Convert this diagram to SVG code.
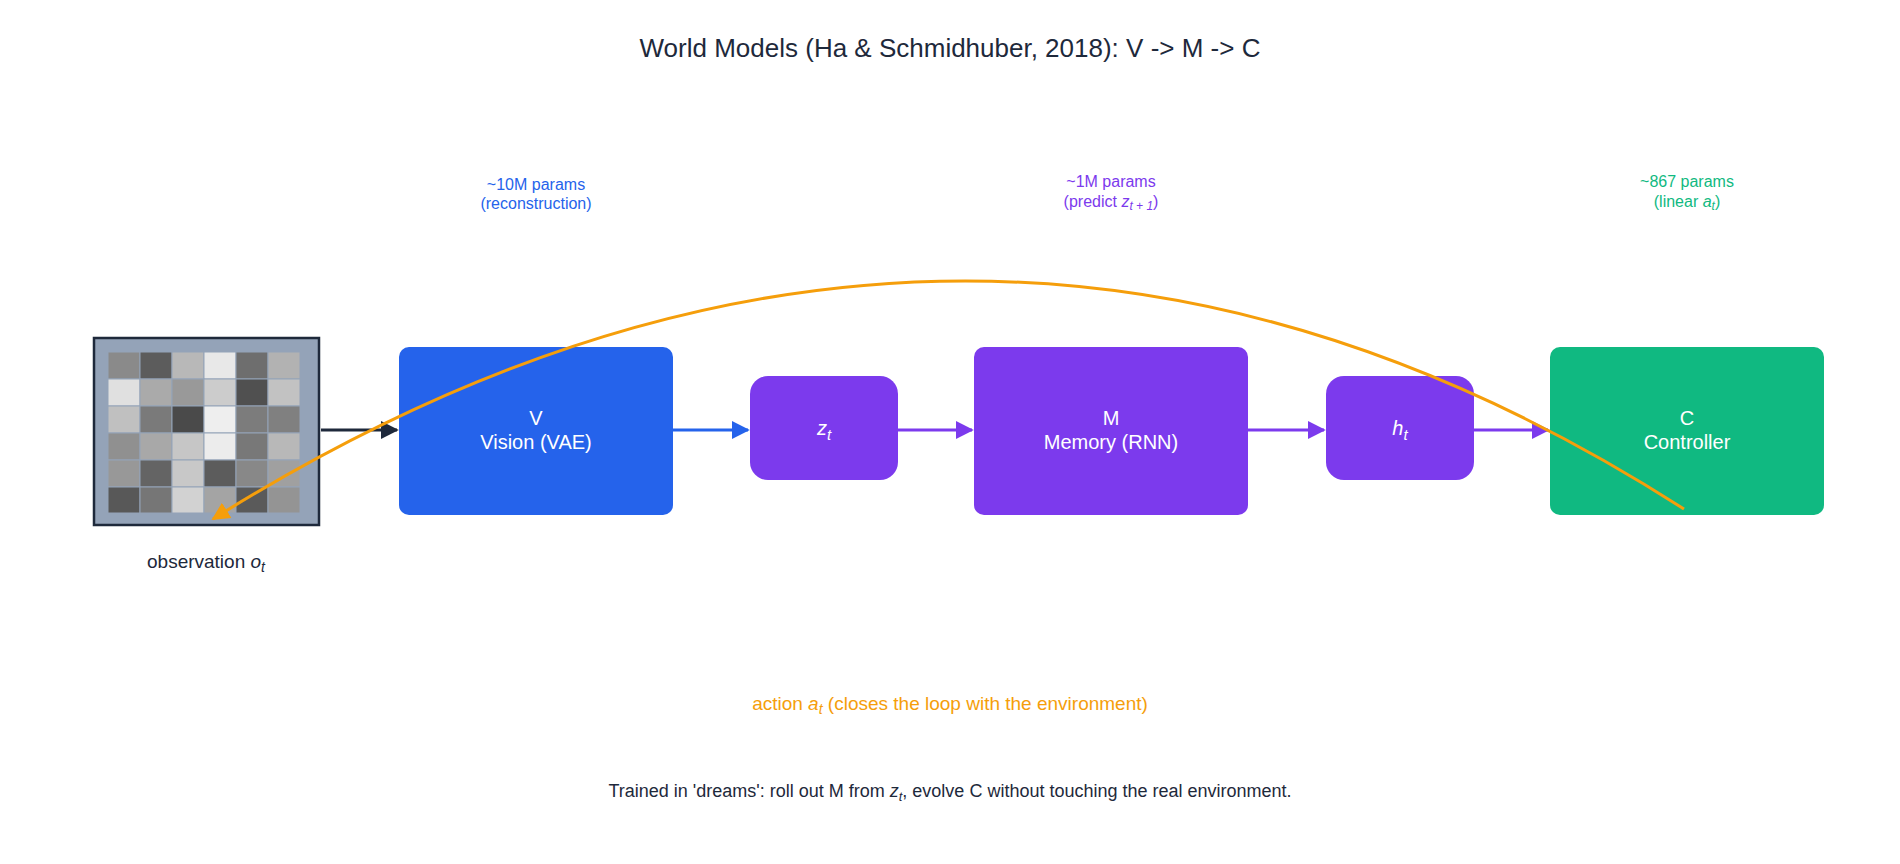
<svg xmlns="http://www.w3.org/2000/svg" width="1900" height="864" viewBox="0 0 1900 864">
<style>
text{font-family:"Liberation Sans",Arial,sans-serif;text-anchor:middle}
.w{fill:#fff;font-size:20px}
.p{font-size:16px}
.c{stroke-width:3;fill:none}
</style>
<defs>
<marker id="ak" viewBox="0 0 10 10" refX="9" refY="5" markerWidth="6" markerHeight="6" orient="auto"><path d="M0,0L10,5L0,10z" fill="#1e293b"/></marker>
<marker id="ab" viewBox="0 0 10 10" refX="9" refY="5" markerWidth="6" markerHeight="6" orient="auto"><path d="M0,0L10,5L0,10z" fill="#2563eb"/></marker>
<marker id="ap" viewBox="0 0 10 10" refX="9" refY="5" markerWidth="6" markerHeight="6" orient="auto"><path d="M0,0L10,5L0,10z" fill="#7c3aed"/></marker>
<marker id="ao" viewBox="0 0 10 10" refX="9" refY="5" markerWidth="6" markerHeight="6" orient="auto"><path d="M0,0L10,5L0,10z" fill="#f59e0b"/></marker>
</defs>
<rect width="1900" height="864" fill="#fff"/>
<text x="950" y="57" font-size="26" fill="#1e293b">World Models (Ha &amp; Schmidhuber, 2018):  V -&gt; M -&gt; C</text>
<g id="obs">
<rect x="94" y="338" width="225" height="187" fill="#94a3b8" stroke="#1e293b" stroke-width="2.5"/>
<g stroke="#94a3b8" stroke-width="1">
<rect x="108" y="352" width="32" height="27" fill="#8a8a8a"/><rect x="140" y="352" width="32" height="27" fill="#5c5c5c"/><rect x="172" y="352" width="32" height="27" fill="#b8b8b8"/><rect x="204" y="352" width="32" height="27" fill="#e8e8e8"/><rect x="236" y="352" width="32" height="27" fill="#6e6e6e"/><rect x="268" y="352" width="32" height="27" fill="#b2b2b2"/>
<rect x="108" y="379" width="32" height="27" fill="#e0e0e0"/><rect x="140" y="379" width="32" height="27" fill="#aaaaaa"/><rect x="172" y="379" width="32" height="27" fill="#999999"/><rect x="204" y="379" width="32" height="27" fill="#cccccc"/><rect x="236" y="379" width="32" height="27" fill="#505050"/><rect x="268" y="379" width="32" height="27" fill="#c2c2c2"/>
<rect x="108" y="406" width="32" height="27" fill="#c0c0c0"/><rect x="140" y="406" width="32" height="27" fill="#7a7a7a"/><rect x="172" y="406" width="32" height="27" fill="#4a4a4a"/><rect x="204" y="406" width="32" height="27" fill="#eeeeee"/><rect x="236" y="406" width="32" height="27" fill="#7c7c7c"/><rect x="268" y="406" width="32" height="27" fill="#808080"/>
<rect x="108" y="433" width="32" height="27" fill="#909090"/><rect x="140" y="433" width="32" height="27" fill="#a8a8a8"/><rect x="172" y="433" width="32" height="27" fill="#c6c6c6"/><rect x="204" y="433" width="32" height="27" fill="#ececec"/><rect x="236" y="433" width="32" height="27" fill="#787878"/><rect x="268" y="433" width="32" height="27" fill="#b8b8b8"/>
<rect x="108" y="460" width="32" height="27" fill="#989898"/><rect x="140" y="460" width="32" height="27" fill="#646464"/><rect x="172" y="460" width="32" height="27" fill="#c8c8c8"/><rect x="204" y="460" width="32" height="27" fill="#5c5c5c"/><rect x="236" y="460" width="32" height="27" fill="#888888"/><rect x="268" y="460" width="32" height="27" fill="#a0a0a0"/>
<rect x="108" y="487" width="32" height="26" fill="#585858"/><rect x="140" y="487" width="32" height="26" fill="#767676"/><rect x="172" y="487" width="32" height="26" fill="#d2d2d2"/><rect x="204" y="487" width="32" height="26" fill="#a4a4a4"/><rect x="236" y="487" width="32" height="26" fill="#5a5a5a"/><rect x="268" y="487" width="32" height="26" fill="#949494"/>
</g>
<text x="206" y="568" font-size="19" fill="#1e293b">observation <tspan font-style="italic">o</tspan><tspan font-style="italic" font-size="14" dy="4">t</tspan></text>
</g>
<g id="V"><rect x="399" y="347" width="274" height="168" rx="10" fill="#2563eb"/><text class="w" x="536" y="425">V</text><text class="w" x="536" y="449">Vision (VAE)</text>
<text class="p" x="536" y="190" fill="#2563eb">~10M params</text><text class="p" x="536" y="209" fill="#2563eb">(reconstruction)</text></g>
<g id="z"><rect x="750" y="376" width="148" height="104" rx="18" fill="#7c3aed"/><text class="w" x="824" y="435" font-size="22"><tspan font-style="italic">z</tspan><tspan font-style="italic" font-size="15" dy="5">t</tspan></text></g>
<g id="M"><rect x="974" y="347" width="274" height="168" rx="10" fill="#7c3aed"/><text class="w" x="1111" y="425">M</text><text class="w" x="1111" y="449">Memory (RNN)</text>
<text class="p" x="1111" y="187" fill="#7c3aed">~1M params</text><text class="p" x="1111" y="207" fill="#7c3aed">(predict <tspan font-style="italic">z</tspan><tspan font-style="italic" font-size="12" dy="3">t + 1</tspan><tspan dy="-3">)</tspan></text></g>
<g id="h"><rect x="1326" y="376" width="148" height="104" rx="18" fill="#7c3aed"/><text class="w" x="1400" y="435" font-size="22"><tspan font-style="italic">h</tspan><tspan font-style="italic" font-size="15" dy="5">t</tspan></text></g>
<g id="C"><rect x="1550" y="347" width="274" height="168" rx="10" fill="#10b981"/><text class="w" x="1687" y="425">C</text><text class="w" x="1687" y="449">Controller</text>
<text class="p" x="1687" y="187" fill="#10b981">~867 params</text><text class="p" x="1687" y="207" fill="#10b981">(linear <tspan font-style="italic">a</tspan><tspan font-style="italic" font-size="12" dy="3">t</tspan><tspan dy="-3">)</tspan></text></g>
<g id="connectors">
<path class="c" d="M321,430H397" stroke="#1e293b" marker-end="url(#ak)"/>
<path class="c" d="M673,430H748" stroke="#2563eb" marker-end="url(#ab)"/>
<path class="c" d="M898,430H972" stroke="#7c3aed" marker-end="url(#ap)"/>
<path class="c" d="M1248,430H1324" stroke="#7c3aed" marker-end="url(#ap)"/>
<path class="c" d="M1474,430H1548" stroke="#7c3aed" marker-end="url(#ap)"/>
<path class="c" d="M1684,509Q966,48 213,519" stroke="#f59e0b" marker-end="url(#ao)"/>
</g>
<text x="950" y="710" font-size="19" fill="#f59e0b">action <tspan font-style="italic">a</tspan><tspan font-style="italic" font-size="14" dy="4">t</tspan><tspan dy="-4">  (closes the loop with the environment)</tspan></text>
<text x="950" y="797" font-size="18" fill="#1e293b">Trained in 'dreams': roll out M from <tspan font-style="italic">z</tspan><tspan font-style="italic" font-size="13" dy="4">t</tspan><tspan dy="-4">, evolve C without touching the real environment.</tspan></text>
</svg>
